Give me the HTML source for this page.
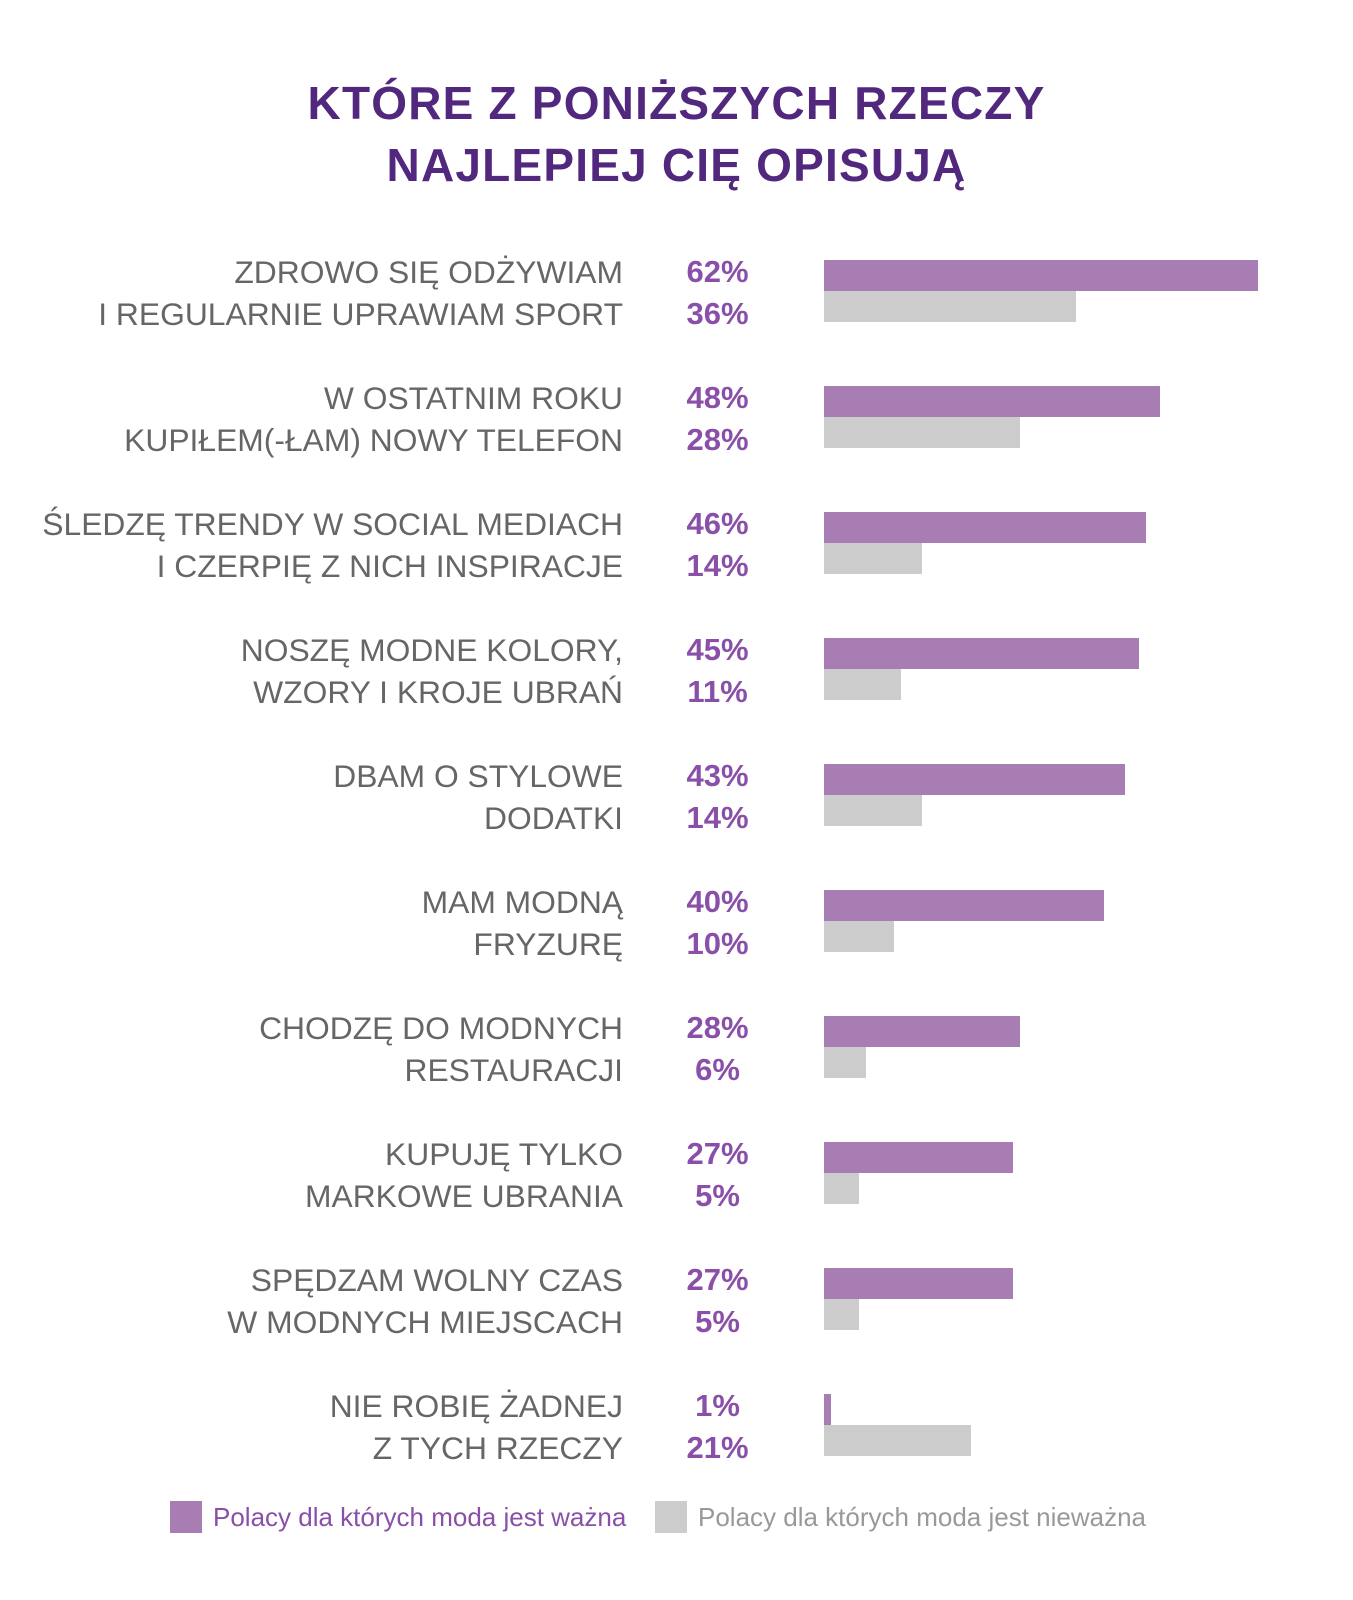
<!DOCTYPE html>
<html><head><meta charset="utf-8"><style>
body{margin:0;background:#fff;width:1353px;height:1600px;position:relative;font-family:"Liberation Sans",sans-serif;overflow:hidden}
#title{position:absolute;left:0;width:1353px;top:72px;text-align:center;color:#52287e;font-weight:bold;font-size:46px;line-height:62px;letter-spacing:1.2px}
.lab{position:absolute;right:730px;text-align:right;color:#666;font-size:31.8px;line-height:42px;white-space:nowrap}
.pct{position:absolute;left:660px;width:115px;text-align:center;color:#8a4fa8;font-weight:bold;font-size:31px;line-height:42px}
.bar{position:absolute}
.leg{position:absolute;top:1500px;font-size:26px;line-height:34px;white-space:nowrap}
.sw{position:absolute;width:32px;height:32px;top:1501px}
</style></head><body>
<div id="title">KTÓRE Z PONIŻSZYCH RZECZY<br>NAJLEPIEJ CIĘ OPISUJĄ</div>
<div id="chart"></div>
<div class="sw" style="left:170px;background:#a87db3"></div>
<div class="leg" style="left:213px;color:#8a4fa8">Polacy dla których moda jest ważna</div>
<div class="sw" style="left:655px;background:#cccccc"></div>
<div class="leg" style="left:698px;color:#999">Polacy dla których moda jest nieważna</div>
<script>
const labels1=["ZDROWO SIĘ ODŻYWIAM","W OSTATNIM ROKU","ŚLEDZĘ TRENDY W SOCIAL MEDIACH","NOSZĘ MODNE KOLORY,","DBAM O STYLOWE","MAM MODNĄ","CHODZĘ DO MODNYCH","KUPUJĘ TYLKO","SPĘDZAM WOLNY CZAS","NIE ROBIĘ ŻADNEJ"];
const labels2=["I REGULARNIE UPRAWIAM SPORT","KUPIŁEM(-ŁAM) NOWY TELEFON","I CZERPIĘ Z NICH INSPIRACJE","WZORY I KROJE UBRAŃ","DODATKI","FRYZURĘ","RESTAURACJI","MARKOWE UBRANIA","W MODNYCH MIEJSCACH","Z TYCH RZECZY"];
const important=[62,48,46,45,43,40,28,27,27,1];
const unimportant=[36,28,14,11,14,10,6,5,5,21];
const x0=824, scale=7.0, y0=260, pitch=126;
const xs=v=>v*scale;
const c=document.getElementById('chart');
function mk(cls,style,text){const d=document.createElement('div');d.className=cls;Object.assign(d.style,style);if(text!==undefined)d.textContent=text;c.appendChild(d);return d;}
for(let i=0;i<labels1.length;i++){
  const y=y0+i*pitch;
  let e=mk('lab',{top:(y-9)+'px'},labels1[i]);
  
  
  e=mk('lab',{top:(y+33)+'px'},labels2[i]);
  
  
  e=mk('pct',{top:(y-9)+'px'},important[i]+'%');
  
  
  e=mk('pct',{top:(y+33)+'px'},unimportant[i]+'%');
  
  
  e=mk('bar',{left:x0+'px',top:y+'px',width:xs(important[i])+'px',height:'31px',background:'#a87db3'});
  
  
  e=mk('bar',{left:x0+'px',top:(y+31)+'px',width:xs(unimportant[i])+'px',height:'31px',background:'#cccccc'});
  
  
}
</script>
</body></html>
